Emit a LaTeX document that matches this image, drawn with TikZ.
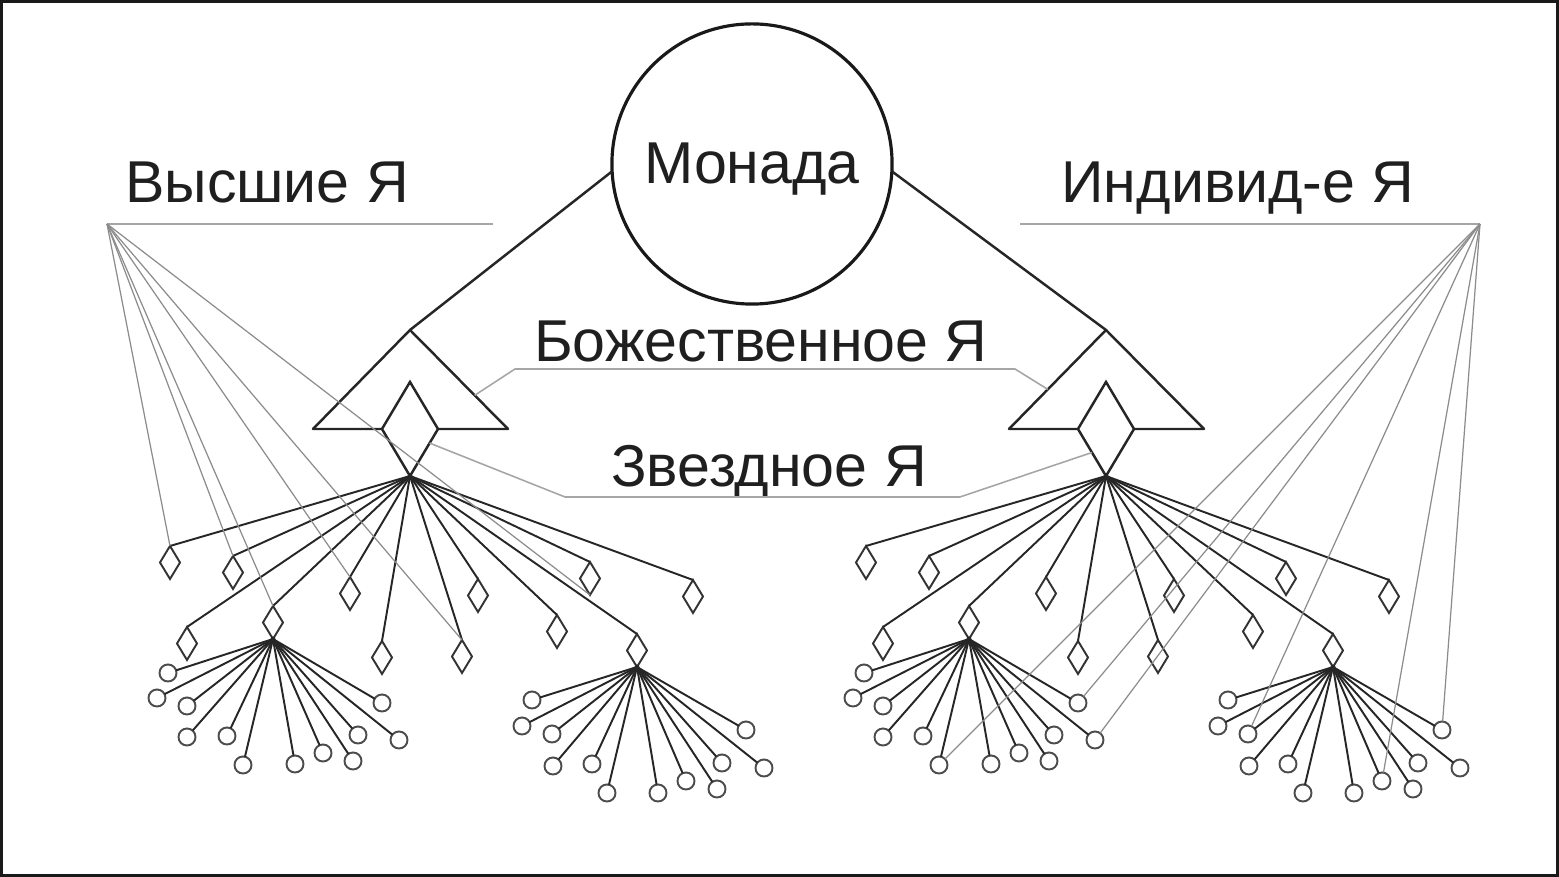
\documentclass[tikz,border=0pt]{standalone}
\usepackage{fontspec}
\setmainfont{Liberation Sans}
\usetikzlibrary{shapes.geometric,calc}
\begin{document}
\begin{tikzpicture}[x=0.01cm,y=-0.01cm,
  lbl/.style={font=\fontsize{16.8}{20}\selectfont, text=black!88, anchor=base, inner sep=0},
  dia/.style={shape=diamond, draw=black!80, line width=0.55pt, minimum width=0.2cm, minimum height=0.33cm, inner sep=0, outer sep=0, anchor=north},
  bigdia/.style={shape=diamond, draw=black!85, line width=0.7pt, minimum width=0.56cm, minimum height=0.94cm, inner sep=0, outer sep=0},
  leaf/.style={circle, draw=black!70, line width=0.55pt, minimum size=0.17cm, inner sep=0, outer sep=0},
  tree/.style={draw=black!85, line width=0.55pt},
  struct/.style={draw=black!85, line width=0.7pt, line join=round},
  ptr/.style={draw=black!45, line width=0.35pt},
  uline/.style={draw=black!35, line width=0.45pt},
  frame/.style={draw=black!90, line width=0.85pt},
]
\useasboundingbox (0,0) rectangle (1559,877);
\draw[frame] (1.5,1.5) rectangle (1557.5,875.5);

% Monad
\node[circle, draw=black!90, line width=0.9pt, minimum size=2.8cm, inner sep=0, outer sep=0] (monad) at (752,164) {};
\node[lbl] (monadtxt) at (752,184) {Монада};

% trees
\foreach \p/\dx in {L/0,R/696}{
  \begin{scope}[shift={(\dx,0)}]
    \coordinate (\p apex) at (410,330);
    \coordinate (\p bl) at (313,429);
    \coordinate (\p br) at (508,429);
    \node[bigdia] (\p d0) at (410,429) {};
    \draw[struct] (\p d0.west) -- (\p bl) -- (\p apex) -- (\p br) -- (\p d0.east);
    \foreach \n/\x/\y in {1/170/546, 2/233/556, 3/187/627, 4/350/577, 5/273/606, 6/382/641,
                          7/478/579, 8/462/640, 9/557/615, 10/590/562, 11/693/580, 12/637/634}{
      \node[dia] (\p d\n) at (\x,\y) {};
      \draw[tree] (\p d0.south) -- (\p d\n.north);
    }
    \fill[black!85] (\p d0.south) circle (2.5);
    \foreach \n/\x/\y in {1/168/673, 2/157/698, 3/187/706, 4/187/737, 5/227/736, 6/243/765,
                          7/295/764, 8/323/753, 9/353/761, 10/358/735, 11/382/703, 12/399/740}{
      \node[leaf] (\p a\n) at (\x,\y) {};
      \draw[tree] (\p d5.south) -- (\p a\n);
    }
    \fill[black!85] (\p d5.south) circle (2.5);
    \foreach \n/\x/\y in {1/532/700, 2/522/726, 3/552/734, 4/553/766, 5/592/764, 6/607/793,
                          7/658/793, 8/686/781, 9/717/789, 10/722/763, 11/746/730, 12/764/768}{
      \node[leaf] (\p b\n) at (\x,\y) {};
      \draw[tree] (\p d12.south) -- (\p b\n);
    }
    \fill[black!85] (\p d12.south) circle (2.5);
  \end{scope}
}

% monad to triangles
\draw[struct] (monad.183) -- (Lapex);
\draw[struct] (monad.-3) -- (Rapex);

% labels
\node[lbl] (hi) at (267,203) {Высшие Я};
\node[lbl] (ind) at (1238,203) {Индивид-е Я};
\node[lbl] (div) at (761,362) {Божественное Я};
\node[lbl] (star) at (769,487) {Звездное Я};

% label lines
\coordinate (LA) at (107,224);
\coordinate (LAe) at (493,224);
\coordinate (RA) at (1480,224);
\coordinate (RAe) at (1020,224);
\draw[uline] (LA) -- (LAe);
\draw[uline] (RAe) -- (RA);

\coordinate (dv1) at (515,369);
\coordinate (dv2) at (1015,369);
\draw[uline] ($(Lapex)!0.66!(Lbr)$) -- (dv1) -- (dv2) -- ($(Rapex)!0.6!(Rbl)$);

\coordinate (st1) at (565,497);
\coordinate (st2) at (960,497);
\draw[uline] ($(Ld0.east)!0.3!(Ld0.south)$) -- (st1) -- (st2) -- ($(Rd0.west)!0.5!(Rd0.south)$);

% pointer lines from Высшие Я
\foreach \t in {Ld1.north, Ld2.north, Ld5.north, Ld4.north, Ld8.north, Ld10.south}
  \draw[ptr] (LA) -- (\t);
% pointer lines from Индивид-е Я
\foreach \t in {Ra6, Ra11, Ra12, Rb3, Rb8, Rb11}
  \draw[ptr] (RA) -- (\t);
\end{tikzpicture}
\end{document}
